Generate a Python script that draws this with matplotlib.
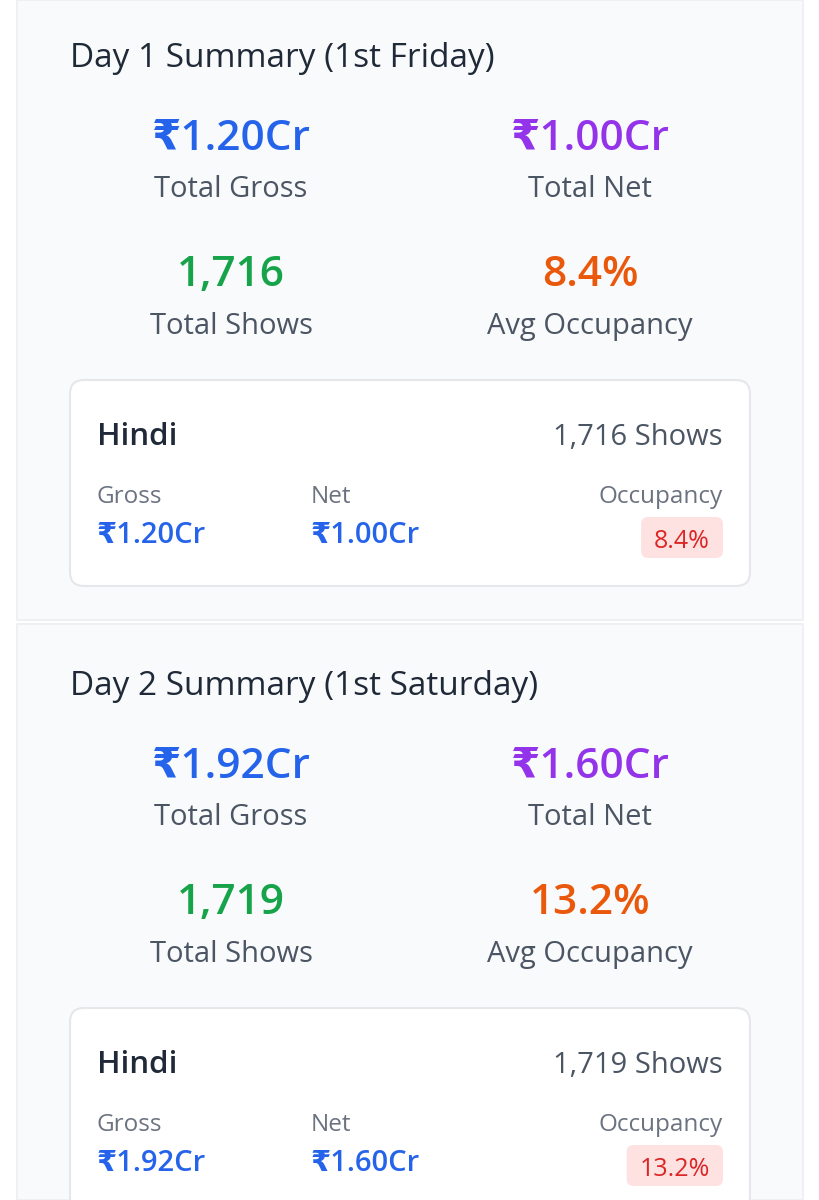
import matplotlib.pyplot as plt
from matplotlib.patches import FancyBboxPatch, Rectangle

plt.rcParams["font.family"] = ["Open Sans", "DejaVu Sans"]

# data
day_titles = ["Day 1 Summary (1st Friday)", "Day 2 Summary (1st Saturday)"]
gross_cr = [1.20, 1.92]
net_cr = [1.00, 1.60]
total_shows = [1716, 1719]
avg_occupancy = [8.4, 13.2]
languages = ["Hindi", "Hindi"]

BLUE = "#2563eb"
PURPLE = "#9333ea"
GREEN = "#16a34a"
ORANGE = "#ea580c"
DARK = "#1f2937"
GRAY = "#4b5563"
LIGHT = "#6b7280"
BORDER = "#e5e7eb"

fig = plt.figure(figsize=(8.2, 12), dpi=100)
ax = fig.add_axes([0, 0, 1, 1])
ax.set_xlim(0, 820)
ax.set_ylim(1200, 0)
ax.axis("off")
fig.patch.set_facecolor("white")

step = 628
badges = []

for i in range(len(day_titles)):
    y0 = i * step

    # section panel
    top = 0 if i == 0 else 624
    bottom = 620 if i == 0 else 1200
    ax.add_patch(Rectangle((17, top), 786, bottom - top, facecolor="#f9fafb",
                           edgecolor="#eceef1", linewidth=1.2, zorder=0))

    ax.text(70, y0 + 67, day_titles[i], fontsize=24, color=DARK, ha="left", va="baseline")

    # big summary numbers
    ax.text(231, y0 + 150, f"₹{gross_cr[i]:.2f}Cr", fontsize=30.5, fontweight="semibold",
            color=BLUE, ha="center", va="baseline")
    ax.text(231, y0 + 197, "Total Gross", fontsize=21, color=GRAY, ha="center", va="baseline")
    ax.text(590, y0 + 150, f"₹{net_cr[i]:.2f}Cr", fontsize=30.5, fontweight="semibold",
            color=PURPLE, ha="center", va="baseline")
    ax.text(590, y0 + 197, "Total Net", fontsize=21, color=GRAY, ha="center", va="baseline")

    ax.text(231, y0 + 286, f"{total_shows[i]:,}", fontsize=30.5, fontweight="semibold",
            color=GREEN, ha="center", va="baseline")
    ax.text(231, y0 + 334, "Total Shows", fontsize=21, color=GRAY, ha="center", va="baseline")
    ax.text(590, y0 + 286, f"{avg_occupancy[i]:.1f}%", fontsize=30.5, fontweight="semibold",
            color=ORANGE, ha="center", va="baseline")
    ax.text(590, y0 + 334, "Avg Occupancy", fontsize=21, color=GRAY, ha="center", va="baseline")

    # language card
    card = FancyBboxPatch((70, y0 + 380), 680, 206, boxstyle="round,pad=0,rounding_size=14",
                          facecolor="white", edgecolor=BORDER, linewidth=1.5, zorder=1)
    ax.add_patch(card)

    ax.text(97, y0 + 445, languages[i], fontsize=22.5, fontweight="semibold", color=DARK,
            ha="left", va="baseline", zorder=2)
    ax.text(723, y0 + 445, f"{total_shows[i]:,} Shows", fontsize=21, color=GRAY,
            ha="right", va="baseline", zorder=2)

    ax.text(97, y0 + 503, "Gross", fontsize=17.5, color=LIGHT, ha="left", va="baseline", zorder=2)
    ax.text(311, y0 + 503, "Net", fontsize=17.5, color=LIGHT, ha="left", va="baseline", zorder=2)
    ax.text(723, y0 + 503, "Occupancy", fontsize=17.5, color=LIGHT, ha="right", va="baseline", zorder=2)

    ax.text(97, y0 + 543, f"₹{gross_cr[i]:.2f}Cr", fontsize=21, fontweight="semibold", color=BLUE,
            ha="left", va="baseline", zorder=2)
    ax.text(311, y0 + 543, f"₹{net_cr[i]:.2f}Cr", fontsize=21, fontweight="semibold", color=BLUE,
            ha="left", va="baseline", zorder=2)
    t = ax.text(710, y0 + 548, f"{avg_occupancy[i]:.1f}%", fontsize=18, color="#dc2626",
                ha="right", va="baseline", zorder=3)
    badges.append((t, y0))

# pink pill behind the occupancy value, sized to its text
fig.canvas.draw()
inv = ax.transData.inverted()
for t, y0 in badges:
    bb = t.get_window_extent()
    x_left = inv.transform((bb.x0, bb.y0))[0]
    left = x_left - 13
    ax.add_patch(FancyBboxPatch((left, y0 + 517), 723 - left, 41,
                                boxstyle="round,pad=0,rounding_size=7",
                                facecolor="#fee2e2", edgecolor="none", zorder=2.5))

fig.savefig("out.png", dpi=100, facecolor=fig.get_facecolor())
